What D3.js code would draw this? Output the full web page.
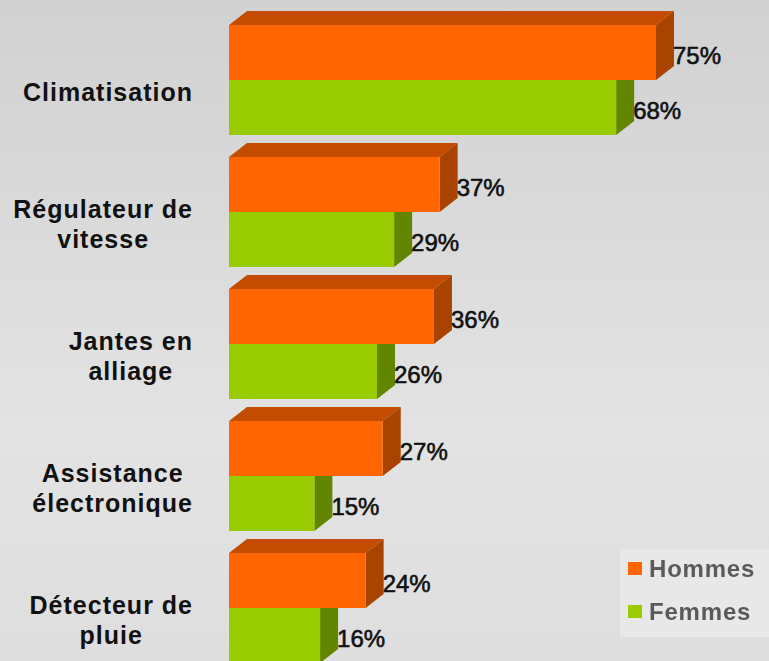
<!DOCTYPE html>
<html>
<head>
<meta charset="utf-8">
<script src="https://cdn.jsdelivr.net/npm/d3@7"></script>
<style>
  html, body { margin: 0; padding: 0; background: #dcdcdc; }
  svg { display: block; }
</style>
</head>
<body>
<svg id="chart" width="769" height="661"></svg>
<script>
// ---- data ----
const categories = ["Climatisation", "Régulateur de vitesse", "Jantes en alliage", "Assistance électronique", "Détecteur de pluie"];
const categoryLines = [["Climatisation"], ["Régulateur de", "vitesse"], ["Jantes en", "alliage"], ["Assistance", "électronique"], ["Détecteur de", "pluie"]];
const seriesNames = ["Hommes", "Femmes"];
const hommes = [75, 37, 36, 27, 24];
const femmes = [68, 29, 26, 15, 16];

// ---- styles ----
const W = 769, H = 661;
const colors = {
  Hommes: { front: "#ff6600", top: "#c44c00", side: "#a84300" },
  Femmes: { front: "#99cc00", top: "#7aa300", side: "#628600" }
};
const depthX = 18, depthY = 14;
const font = "'Liberation Sans', Arial, Helvetica, sans-serif";

const svg = d3.select("#chart");
const defs = svg.append("defs");
const bg = defs.append("linearGradient").attr("id", "bg").attr("x1", 0).attr("y1", 0).attr("x2", 0).attr("y2", 1);
bg.append("stop").attr("offset", "0").attr("stop-color", "#d1d1d1");
bg.append("stop").attr("offset", "0.65").attr("stop-color", "#e3e3e3");
bg.append("stop").attr("offset", "1").attr("stop-color", "#dedede");
defs.append("filter").attr("id", "soft").attr("x", "-10%").attr("y", "-10%").attr("width", "120%").attr("height", "120%")
  .append("feGaussianBlur").attr("stdDeviation", 0.7);

svg.append("rect").attr("width", W).attr("height", H).attr("fill", "url(#bg)");

// ---- scales ----
const x = d3.scaleLinear().domain([0, 75]).range([229, 656]);
const y = d3.scaleBand().domain(categories).range([25, 663]).paddingInner(1 / 6).paddingOuter(0);
const ys = d3.scaleBand().domain(seriesNames).range([0, y.bandwidth()]).padding(0);

const rows = categories.map((c, i) => ({ cat: c, lines: categoryLines[i], Hommes: hommes[i], Femmes: femmes[i] }));

// ---- bars (draw Femmes first so Hommes covers hidden faces) ----
const drawOrder = ["Femmes", "Hommes"];
const g = svg.append("g");
rows.forEach(r => {
  drawOrder.forEach(s => {
    const x0 = x(0), x1 = x(r[s]);
    const y0 = y(r.cat) + ys(s), h = ys.bandwidth();
    const c = colors[s];
    const bar = g.append("g");
    bar.append("path")
      .attr("d", `M${x0},${y0}L${x0 + depthX},${y0 - depthY}L${x1 + depthX},${y0 - depthY}L${x1},${y0}Z`)
      .attr("fill", c.top);
    bar.append("path")
      .attr("d", `M${x1},${y0}L${x1 + depthX},${y0 - depthY}L${x1 + depthX},${y0 + h - depthY}L${x1},${y0 + h}Z`)
      .attr("fill", c.side);
    bar.append("rect")
      .attr("x", x0).attr("y", y0).attr("width", x1 - x0).attr("height", h)
      .attr("fill", c.front);
  });
});

// ---- value labels ----
rows.forEach(r => {
  seriesNames.forEach(s => {
    svg.append("text")
      .attr("x", x(r[s]) + depthX - 1)
      .attr("y", y(r.cat) + ys(s) + ys.bandwidth() / 2 + 11)
      .attr("font-family", font)
      .attr("font-size", 24)
      .attr("fill", "#111")
      .attr("stroke", "#111")
      .attr("stroke-width", 0.6)
      .text(r[s] + "%");
  });
});

// ---- category labels ----
const rightEdge = 193, lineH = 30, capH = 18;
rows.forEach(r => {
  const cy = y(r.cat) + y.bandwidth() / 2 + 12;
  const n = r.lines.length;
  const firstBase = cy - (capH + (n - 1) * lineH) / 2 + capH;
  const tg = svg.append("g");
  const texts = r.lines.map((ln, k) => tg.append("text")
    .attr("y", firstBase + k * lineH)
    .attr("font-family", font)
    .attr("font-size", 25)
    .attr("font-weight", "bold")
    .attr("letter-spacing", 1)
    .attr("text-anchor", "middle")
    .attr("fill", "#111")
    .text(ln));
  const maxW = d3.max(texts, t => t.node().getComputedTextLength());
  texts.forEach(t => t.attr("x", rightEdge - maxW / 2));
});

// ---- legend ----
const lg = svg.append("g").attr("filter", "url(#soft)");
lg.append("rect").attr("x", 620).attr("y", 549).attr("width", 160).attr("height", 88).attr("fill", "#e8e8e8");
seriesNames.forEach((s, i) => {
  const by = 577 + i * 43;
  lg.append("rect").attr("x", 628).attr("y", by - 15).attr("width", 14).attr("height", 13).attr("fill", colors[s].front);
  lg.append("text").attr("x", 649).attr("y", by)
    .attr("font-family", font).attr("font-size", 24).attr("font-weight", "bold")
    .attr("letter-spacing", 0.8)
    .attr("fill", "#5a5a5a").text(s);
});
</script>
</body>
</html>
